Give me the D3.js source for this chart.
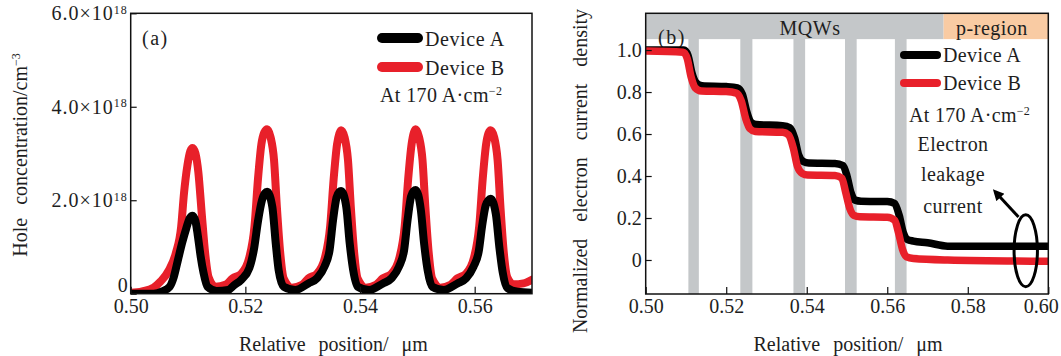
<!DOCTYPE html>
<html><head><meta charset="utf-8">
<script src="https://cdn.jsdelivr.net/npm/d3@7"></script>
<style>
body{margin:0;background:#fff}
svg text{font-family:"Liberation Serif","Times New Roman",serif;fill:#1e1e1e}
</style></head><body><svg id="c" width="1061" height="356"></svg>
<script>
// ---------- DATA ----------
// (a) hole concentration, values in units of 1e18 cm^-3
const holeXTicks = [0.50, 0.52, 0.54, 0.56];
const holeYTicks = [0, 2, 4, 6];
const holeA = [[0.5000,0.0],[0.5040,0.0],[0.5055,0.05],[0.5068,0.15],[0.5075,0.35],[0.5082,0.70],[0.5090,1.10],[0.5097,1.40],[0.5103,1.62],[0.5108,1.67],[0.5113,1.55],[0.5117,1.25],[0.5122,0.80],[0.5127,0.45],[0.5134,0.15],[0.5150,0.06],[0.5170,0.08],[0.5180,0.18],[0.5193,0.30],[0.5207,0.55],[0.5215,0.95],[0.5222,1.55],[0.5229,2.00],[0.5234,2.15],[0.5238,2.18],
  [0.5247,1.86],[0.5253,1.08],[0.5258,0.51],[0.5267,0.15],[0.5287,0.08],[0.5310,0.22],[0.5325,0.33],[0.5338,0.58],[0.5347,0.94],[0.5353,1.58],[0.5359,2.06],[0.5364,2.18],[0.5367,2.20],
  [0.5376,1.86],[0.5382,1.08],[0.5388,0.51],[0.5396,0.15],[0.5416,0.08],[0.5440,0.22],[0.5455,0.33],[0.5468,0.58],[0.5477,0.94],[0.5483,1.58],[0.5489,2.08],[0.5494,2.20],[0.5497,2.22],
  [0.5506,1.80],[0.5512,1.05],[0.5518,0.50],[0.5526,0.15],[0.5546,0.08],[0.5570,0.22],[0.5585,0.33],[0.5598,0.58],[0.5607,0.90],[0.5613,1.45],[0.5619,1.88],[0.5624,2.00],[0.5628,2.03],
  [0.5637,1.70],[0.5643,1.00],[0.5649,0.45],[0.5657,0.12],[0.5675,0.04],[0.5700,0.02]];
const holeB = [[0.5000,0.02],[0.5020,0.05],[0.5040,0.13],[0.5052,0.26],[0.5067,0.51],[0.5079,0.88],[0.5088,1.43],[0.5093,2.15],[0.5099,2.75],[0.5104,3.05],[0.5108,3.12],[0.5113,3.00],[0.5118,2.60],[0.5124,1.70],[0.5130,0.85],[0.5136,0.35],[0.5148,0.15],[0.5165,0.19],[0.5178,0.33],[0.5193,0.43],[0.5207,0.78],[0.5216,1.45],[0.5222,2.45],[0.5228,3.20],[0.5233,3.45],[0.5238,3.52],
  [0.5244,3.35],[0.5250,2.86],[0.5255,1.85],[0.5261,0.85],[0.5267,0.32],[0.5281,0.13],[0.5299,0.19],[0.5310,0.33],[0.5325,0.43],[0.5339,0.78],[0.5348,1.45],[0.5354,2.45],[0.5360,3.20],[0.5364,3.43],[0.5367,3.50],
  [0.5373,3.35],[0.5379,2.86],[0.5384,1.85],[0.5390,0.85],[0.5396,0.32],[0.5410,0.13],[0.5428,0.19],[0.5440,0.33],[0.5455,0.43],[0.5469,0.78],[0.5478,1.45],[0.5484,2.45],[0.5490,3.20],[0.5494,3.45],[0.5497,3.52],
  [0.5503,3.35],[0.5509,2.86],[0.5514,1.85],[0.5520,0.85],[0.5526,0.32],[0.5540,0.13],[0.5558,0.19],[0.5570,0.33],[0.5585,0.43],[0.5599,0.78],[0.5608,1.45],[0.5614,2.45],[0.5620,3.20],[0.5624,3.43],[0.5628,3.50],
  [0.5634,3.35],[0.5640,2.86],[0.5645,1.85],[0.5651,0.85],[0.5657,0.35],[0.5668,0.20],[0.5685,0.22],[0.5700,0.30]];

// (b) normalized electron current density
const curXTicks = [0.50, 0.52, 0.54, 0.56, 0.58, 0.60];
const curYTicks = [0, 0.2, 0.4, 0.6, 0.8, 1.0];
const curA = [[0.500,1.0],[0.5095,1.0],[0.5105,0.975],[0.5115,0.89],[0.5125,0.845],[0.5140,0.83],[0.5200,0.826],[0.5228,0.82],[0.5240,0.79],[0.5252,0.70],[0.5262,0.655],[0.5275,0.645],[0.5340,0.64],[0.5358,0.63],[0.5370,0.58],[0.5380,0.50],[0.5392,0.468],[0.5405,0.462],[0.5470,0.46],[0.5490,0.45],[0.5500,0.40],[0.5510,0.32],[0.5520,0.285],[0.5535,0.28],[0.5600,0.278],[0.5618,0.27],[0.5630,0.21],[0.5640,0.13],[0.5650,0.098],[0.5665,0.09],[0.5700,0.082],[0.5750,0.066],[0.5800,0.065],[0.6000,0.065]];
const curB = [[0.500,0.995],[0.5093,0.99],[0.5103,0.96],[0.5113,0.87],[0.5123,0.82],[0.5138,0.805],[0.5200,0.802],[0.5225,0.795],[0.5237,0.76],[0.5249,0.67],[0.5259,0.625],[0.5272,0.612],[0.5340,0.608],[0.5355,0.595],[0.5367,0.53],[0.5377,0.445],[0.5389,0.412],[0.5402,0.405],[0.5470,0.403],[0.5487,0.39],[0.5497,0.32],[0.5507,0.245],[0.5517,0.213],[0.5532,0.206],[0.5600,0.204],[0.5618,0.19],[0.5628,0.13],[0.5638,0.05],[0.5648,0.015],[0.5665,0.007],[0.5750,0.0],[0.6000,-0.006]];
const wells = [[0.5106,0.5132],[0.5235,0.5265],[0.5367,0.5396],[0.5495,0.5524],[0.5619,0.5648]];
const mqwEnd = 0.574;
const seriesNames = ["Device A", "Device B"];
const seriesColors = ["#000000", "#e8202a"];

// ---------- DRAW ----------
const svg = d3.select("#c");
const FS = 20;

function frame(g, x0, x1, y0, y1) {
  g.append("rect").attr("x", x0).attr("y", y0).attr("width", x1 - x0).attr("height", y1 - y0)
    .attr("fill", "none").attr("stroke", "#111").attr("stroke-width", 1.5);
}
function styleAxis(g) {
  g.select(".domain").remove();
  g.selectAll(".tick line").attr("stroke", "#111").attr("stroke-width", 1.2);
  g.selectAll(".tick text").attr("font-size", FS).attr("fill", "#1e1e1e")
    .attr("font-family", "Liberation Serif, serif");
}
function addSup(t, base, sup) {
  t.text(null);
  t.append("tspan").text(base);
  t.append("tspan").attr("dy", "-0.55em").attr("font-size", 12).text(sup);
}

// ===== Panel (a) =====
const aL = 130.7, aR = 532, aT = 13.3, aB = 293.7;
const xA = d3.scaleLinear().domain([0.5, 0.57]).range([aL, aR]);
const yA = d3.scaleLinear().domain([0, 6]).range([aB, aT]);
const gA = svg.append("g");
gA.append("clipPath").attr("id", "clipA").append("rect")
  .attr("x", aL).attr("y", aT).attr("width", aR - aL).attr("height", aB - aT);
const lineA = d3.line().x(d => xA(d[0])).y(d => yA(d[1])).curve(d3.curveMonotoneX);
const gAL = gA.append("g").attr("clip-path", "url(#clipA)");
gAL.append("path").datum(holeB).attr("d", lineA).attr("fill", "none")
  .attr("stroke", seriesColors[1]).attr("stroke-width", 8).attr("stroke-linejoin", "round").attr("stroke-linecap", "round");
gAL.append("path").datum(holeA).attr("d", lineA).attr("fill", "none")
  .attr("stroke", seriesColors[0]).attr("stroke-width", 8).attr("stroke-linejoin", "round").attr("stroke-linecap", "round");

const axAx = gA.append("g").attr("transform", `translate(0,${aB})`)
  .call(d3.axisBottom(xA).tickValues(holeXTicks).tickFormat(d3.format(".2f")).tickSizeInner(-7).tickSizeOuter(0).tickPadding(5));
styleAxis(axAx);
const axAy = gA.append("g").attr("transform", `translate(${aL},0)`)
  .call(d3.axisLeft(yA).tickValues(holeYTicks).tickFormat(d => d === 0 ? "0" : d.toFixed(1) + "×10").tickSizeInner(-6).tickSizeOuter(0).tickPadding(3));
styleAxis(axAy);
axAy.selectAll(".tick text").each(function (d) {
  const t = d3.select(this);
  if (d === 0) { t.attr("dy", "-0.12em"); return; }
  t.attr("letter-spacing", 1);
  addSup(t, d.toFixed(1) + "×10", "18");
});
frame(gA, aL, aR, aT, aB);

gA.append("text").attr("x", 142).attr("y", 45).attr("font-size", FS).attr("letter-spacing", 1.5).text("(a)");
// legend a
[0, 1].forEach(i => {
  const yy = [38, 67][i];
  gA.append("line").attr("x1", 382).attr("x2", 418).attr("y1", yy).attr("y2", yy)
    .attr("stroke", seriesColors[i]).attr("stroke-width", 10).attr("stroke-linecap", "round");
  gA.append("text").attr("x", 425).attr("y", yy + 8).attr("font-size", FS).attr("letter-spacing", 0.6).text(seriesNames[i]);
});
const atA = gA.append("text").attr("x", 380).attr("y", 102).attr("font-size", FS).attr("letter-spacing", 0.4);
atA.append("tspan").text("At 170 A·cm");
atA.append("tspan").attr("dy", "-0.55em").attr("font-size", 12).text("−2");

// axis titles a
gA.append("text").attr("x", (aL + aR) / 2 + 2).attr("y", 351).attr("text-anchor", "middle")
  .attr("font-size", FS).attr("word-spacing", 8).text("Relative position/ μm");
const ytA = gA.append("text").attr("transform", "translate(27,155) rotate(-90)")
  .attr("text-anchor", "middle").attr("font-size", FS).attr("word-spacing", 8);
ytA.append("tspan").text("Hole concentration/cm");
ytA.append("tspan").attr("dy", "-0.55em").attr("font-size", 12).text("−3");

// ===== Panel (b) =====
const bL = 645.7, bR = 1048.3, bT = 13.3, bB = 294;
const xB = d3.scaleLinear().domain([0.5, 0.6]).range([bL, bR]);
const yB = d3.scaleLinear().domain([-0.162, 1.175]).range([bB, bT]);
const gB = svg.append("g");
const bandLow = 1.052;
gB.append("rect").attr("x", xB(0.5)).attr("width", xB(mqwEnd) - xB(0.5))
  .attr("y", yB(1.175)).attr("height", yB(bandLow) - yB(1.175)).attr("fill", "#c4c7c9");
gB.append("rect").attr("x", xB(mqwEnd)).attr("width", xB(0.6) - xB(mqwEnd))
  .attr("y", yB(1.175)).attr("height", yB(bandLow) - yB(1.175)).attr("fill", "#f9cba3");
gB.selectAll("rect.well").data(wells).join("rect").attr("class", "well")
  .attr("x", d => xB(d[0])).attr("width", d => xB(d[1]) - xB(d[0]))
  .attr("y", yB(bandLow) - 0.5).attr("height", yB(-0.162) - yB(bandLow) + 0.5).attr("fill", "#c4c7c9");

gB.append("text").attr("x", 810).attr("y", 35).attr("text-anchor", "middle").attr("font-size", FS).attr("letter-spacing", 0.5).text("MQWs");
gB.append("text").attr("x", 992).attr("y", 35).attr("text-anchor", "middle").attr("font-size", FS).attr("letter-spacing", 0.5).text("p-region");
gB.append("text").attr("x", 658).attr("y", 44).attr("font-size", FS).attr("letter-spacing", 1.5).text("(b)");

gB.append("clipPath").attr("id", "clipB").append("rect")
  .attr("x", bL).attr("y", bT).attr("width", bR - bL).attr("height", bB - bT);
const lineB = d3.line().x(d => xB(d[0])).y(d => yB(d[1])).curve(d3.curveMonotoneX);
const gBL = gB.append("g").attr("clip-path", "url(#clipB)");
gBL.append("path").datum(curA).attr("d", lineB).attr("fill", "none")
  .attr("stroke", seriesColors[0]).attr("stroke-width", 7.5).attr("stroke-linejoin", "round");
gBL.append("path").datum(curB).attr("d", lineB).attr("fill", "none")
  .attr("stroke", seriesColors[1]).attr("stroke-width", 7.5).attr("stroke-linejoin", "round");

const axBx = gB.append("g").attr("transform", `translate(0,${bB})`)
  .call(d3.axisBottom(xB).tickValues(curXTicks).tickFormat(d3.format(".2f")).tickSizeInner(-7).tickSizeOuter(0).tickPadding(5));
styleAxis(axBx);
axBx.selectAll(".tick text").filter(d => Math.abs(d - 0.6) < 1e-9).attr("text-anchor", "end").attr("dx", "0.5em");
const axBy = gB.append("g").attr("transform", `translate(${bL},0)`)
  .call(d3.axisLeft(yB).tickValues(curYTicks).tickFormat(d => d === 0 ? "0" : d.toFixed(1)).tickSizeInner(-6).tickSizeOuter(0).tickPadding(4));
styleAxis(axBy);
frame(gB, bL, bR, bT, bB);

// legend b
[0, 1].forEach(i => {
  const yy = [55, 83][i];
  gB.append("line").attr("x1", 904).attr("x2", 937).attr("y1", yy).attr("y2", yy)
    .attr("stroke", seriesColors[i]).attr("stroke-width", 8).attr("stroke-linecap", "round");
  gB.append("text").attr("x", 943).attr("y", yy + 7).attr("font-size", FS).attr("letter-spacing", 0.4).text(seriesNames[i]);
});
const atB = gB.append("text").attr("x", 909).attr("y", 122).attr("font-size", FS).attr("letter-spacing", 0.3);
atB.append("tspan").text("At 170 A·cm");
atB.append("tspan").attr("dy", "-0.55em").attr("font-size", 12).text("−2");
[["Electron", 151], ["leakage", 181], ["current", 213]].forEach(([t, y]) => {
  gB.append("text").attr("x", 953).attr("y", y).attr("text-anchor", "middle").attr("font-size", FS).attr("letter-spacing", 0.4).text(t);
});
// ellipse + arrow annotation
const ex = 0.5944, ey = 0.044;
gB.append("ellipse").attr("cx", xB(ex)).attr("cy", yB(ey))
  .attr("rx", xB(0.5973) - xB(ex)).attr("ry", yB(-0.127) - yB(ey))
  .attr("fill", "none").attr("stroke", "#000").attr("stroke-width", 3);
svg.append("defs").append("marker").attr("id", "arr").attr("viewBox", "0 0 10 10")
  .attr("markerUnits", "userSpaceOnUse")
  .attr("refX", 7).attr("refY", 5).attr("markerWidth", 13).attr("markerHeight", 11).attr("orient", "auto")
  .append("path").attr("d", "M0,0 L10,5 L0,10 z").attr("fill", "#000");
gB.append("line").attr("x1", xB(0.5926)).attr("y1", yB(0.205)).attr("x2", xB(0.5868)).attr("y2", yB(0.325))
  .attr("stroke", "#000").attr("stroke-width", 3).attr("marker-end", "url(#arr)");

// axis titles b
gB.append("text").attr("x", 848).attr("y", 351).attr("text-anchor", "middle")
  .attr("font-size", FS).attr("word-spacing", 8).text("Relative position/ μm");
gB.append("text").attr("transform", "translate(587,171) rotate(-90)")
  .attr("text-anchor", "middle").attr("font-size", FS).attr("word-spacing", 12)
  .text("Normalized electron current density");
</script></body></html>
